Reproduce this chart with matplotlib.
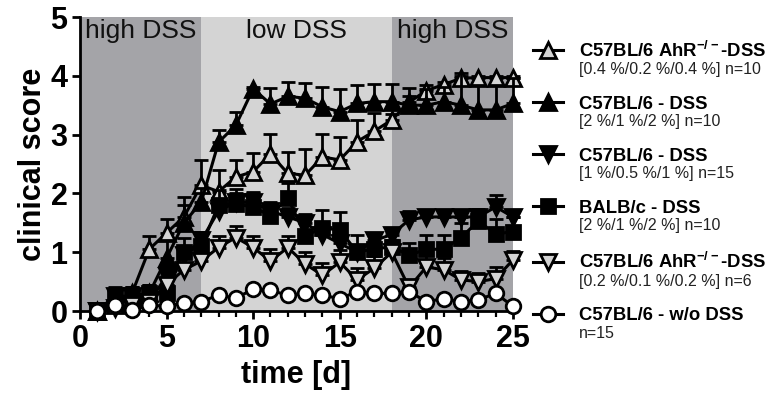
import numpy as np
import matplotlib
matplotlib.use("Agg")
import matplotlib.pyplot as plt

plt.rcParams['font.family'] = ['Liberation Sans', 'DejaVu Sans']
plt.rcParams['mathtext.fontset'] = 'custom'
plt.rcParams['mathtext.rm'] = 'Liberation Sans'
plt.rcParams['mathtext.bf'] = 'Liberation Sans:bold'

# ---------------- data ----------------
days = np.arange(1, 26)

ahr_high = [0, 0.1, 0.3, 1.05, 1.33, 1.6, 2.14, 2.03, 2.28, 2.37, 2.67, 2.34, 2.31,
            2.62, 2.57, 2.88, 3.06, 3.25, 3.55, 3.75, 3.85, 3.96, 3.97, 3.97, 3.97]
ahr_high_err = [0, 0.05, 0.1, 0.22, 0.24, 0.34, 0.43, 0.37, 0.29, 0.32, 0.34, 0.37, 0.44,
                0.39, 0.39, 0.37, 0.31, 0.1, 0.1, 0.1, 0.05, 0.03, 0.03, 0.03, 0.03]

b6_high = [0, 0.15, 0.2, 0.3, 0.9, 1.5, 1.85, 2.87, 3.16, 3.78, 3.52, 3.65, 3.62,
           3.47, 3.39, 3.53, 3.56, 3.56, 3.5, 3.5, 3.56, 3.5, 3.42, 3.42, 3.53]
b6_high_err = [0, 0.1, 0.1, 0.15, 0.3, 0.3, 0.25, 0.2, 0.23, 0.03, 0.27, 0.25, 0.25,
               0.34, 0.38, 0.31, 0.3, 0.3, 0.3, 0.28, 0.25, 0.55, 0.42, 0.42, 0.43]

b6_low = [0, 0.25, 0.25, 0.15, 0.6, 0.95, 1.2, 1.7, 1.85, 1.85, 1.7, 1.6, 1.5,
          1.3, 1.15, 1.0, 1.2, 1.3, 1.55, 1.6, 1.6, 1.6, 1.6, 1.77, 1.6]
b6_low_err = [0, 0.12, 0.12, 0.1, 0.15, 0.15, 0.15, 0.15, 0.15, 0.15, 0.15, 0.15, 0.15,
              0.15, 0.15, 0.12, 0.12, 0.12, 0.15, 0.12, 0.12, 0.12, 0.12, 0.2, 0.12]

balb = [0, 0.25, 0.25, 0.3, 0.3, 1.0, 1.1, 1.8, 1.82, 1.77, 1.62, 1.93, 1.28,
        1.41, 1.38, 1.0, 1.06, 1.09, 0.95, 1.05, 1.05, 1.25, 1.53, 1.31, 1.35]
balb_err = [0, 0.15, 0.15, 0.15, 0.15, 0.25, 0.25, 0.25, 0.25, 0.25, 0.2, 0.25, 0.3,
            0.3, 0.3, 0.3, 0.25, 0.25, 0.2, 0.25, 0.25, 0.25, 0.2, 0.25, 0.25]

ahr_low = [0, 0.05, 0.1, 0.15, 0.45, 0.7, 0.85, 1.08, 1.25, 1.08, 0.85, 1.08, 0.8,
           0.61, 0.83, 0.53, 0.73, 1.0, 0.4, 0.75, 0.7, 0.53, 0.5, 0.55, 0.87]
ahr_low_err = [0, 0.05, 0.05, 0.1, 0.2, 0.2, 0.2, 0.2, 0.2, 0.2, 0.2, 0.2, 0.2,
               0.2, 0.2, 0.2, 0.2, 0.2, 0.1, 0.2, 0.2, 0.15, 0.15, 0.2, 0.15]

ctrl = [0, 0.1, 0.02, 0.1, 0.08, 0.14, 0.16, 0.27, 0.22, 0.37, 0.35, 0.27, 0.3,
        0.27, 0.21, 0.33, 0.3, 0.3, 0.33, 0.16, 0.21, 0.16, 0.19, 0.3, 0.08]
ctrl_err = [0.03] * 25

phases = [(0, 7, 'high DSS', '#a4a4a8'), (7, 18, 'low DSS', '#d4d4d4'),
          (18, 25, 'high DSS', '#a4a4a8')]

titles = [r'C57BL/6 AhR$^{\mathbf{-/-}}$-DSS', 'C57BL/6 - DSS', 'C57BL/6 - DSS',
          'BALB/c - DSS', r'C57BL/6 AhR$^{\mathbf{-/-}}$-DSS', 'C57BL/6 - w/o DSS']
subs = ['[0.4 %/0.2 %/0.4 %] n=10', '[2 %/1 %/2 %] n=10', '[1 %/0.5 %/1 %] n=15',
        '[2 %/1 %/2 %] n=10', '[0.2 %/0.1 %/0.2 %] n=6', 'n=15']

# ---------------- plot ----------------
fig = plt.figure(figsize=(7.66, 4.08), dpi=100)
ax = fig.add_axes([0.1044, 0.2377, 0.5653, 0.7206])

for x0, x1, name, col in phases:
    ax.axvspan(x0, x1, ymin=0, ymax=1, color=col, lw=0, zorder=0)
    ax.text((x0 + x1) / 2, 4.97, name, ha='center', va='top', fontsize=19, color='#111111')

series = [
    (ahr_high, ahr_high_err, '^', '#d4d4d4'),
    (b6_high, b6_high_err, '^', 'black'),
    (b6_low, b6_low_err, 'v', 'black'),
    (balb, balb_err, 's', 'black'),
    (ahr_low, ahr_low_err, 'v', '#d4d4d4'),
    (ctrl, ctrl_err, 'o', 'white'),
]
msizes = {'^': 11, 'v': 11, 's': 9.5, 'o': 10.5}
draw_order = [2, 3, 4, 1, 0, 5]
handles = [None] * 6
for i in draw_order:
    y, e, m, fc = series[i]
    lo = np.zeros(len(e))
    cont = ax.errorbar(days, y, yerr=[lo, e], fmt='-', color='black', lw=2.2,
                       marker=m, ms=msizes[m], mfc=fc, mec='black', mew=2,
                       capsize=5, capthick=2, elinewidth=2, clip_on=False, zorder=3 + i)
    for art in cont.lines[1] + cont.lines[2]:
        art.set_clip_on(False)
    handles[i] = cont.lines[0]

ax.set_xlim(0, 25)
ax.set_ylim(0, 5)
ax.set_xticks(range(0, 26, 5))
ax.set_xticks(range(0, 26), minor=True)
ax.set_yticks(range(0, 6))
for s in ['top', 'right']:
    ax.spines[s].set_visible(False)
for s in ['left', 'bottom']:
    ax.spines[s].set_linewidth(2)
ax.tick_params(which='major', length=6, width=2, labelsize=22, pad=3)
ax.tick_params(which='minor', length=4, width=1.6)
for lab in ax.get_xticklabels() + ax.get_yticklabels():
    lab.set_fontweight('bold')
ax.set_xlabel('time [d]', fontsize=22, fontweight='bold', labelpad=5)
ax.set_ylabel('clinical score', fontsize=22, fontweight='bold', labelpad=2)

leg = ax.legend(handles, titles, loc='upper left', bbox_to_anchor=(1.03, 0.945),
                frameon=False, handlelength=1.6, handletextpad=0.85, labelspacing=1.9,
                borderaxespad=0, prop={'weight': 'bold', 'size': 13.3})
for t, sub in zip(leg.get_texts(), subs):
    ax.annotate(sub, xy=(0, 0), xycoords=t, xytext=(0, -1), textcoords='offset points',
                ha='left', va='top', fontsize=11.5, color='#222222',
                annotation_clip=False, zorder=10)

fig.canvas.draw()
fig.savefig('out.png', dpi=100)
